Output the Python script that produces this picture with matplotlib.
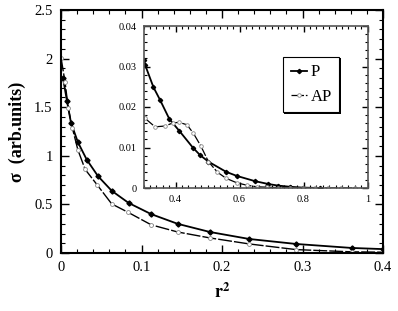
import matplotlib
matplotlib.use("Agg")
import matplotlib.pyplot as plt
import matplotlib.patheffects as pe
from matplotlib.ticker import MultipleLocator, FuncFormatter

# Main panel data
p_x = [0.0025, 0.0075, 0.0124, 0.021, 0.032, 0.046, 0.063, 0.084, 0.112, 0.145, 0.185, 0.234, 0.292, 0.361, 0.40]
p_y = [1.80, 1.56, 1.34, 1.14, 0.96, 0.79, 0.64, 0.515, 0.40, 0.30, 0.216, 0.144, 0.093, 0.052, 0.040]
ap_x = [0.0, 0.005, 0.009, 0.014, 0.021, 0.030, 0.045, 0.063, 0.083, 0.112, 0.145, 0.185, 0.234, 0.292, 0.361, 0.40]
ap_y = [2.01, 1.76, 1.49, 1.29, 1.06, 0.86, 0.70, 0.505, 0.42, 0.29, 0.216, 0.155, 0.093, 0.035, 0.012, 0.008]

# Inset data
ip_x = [0.300, 0.305, 0.331, 0.352, 0.381, 0.412, 0.454, 0.477, 0.503, 0.558, 0.591, 0.648, 0.689, 0.720, 0.758, 0.797, 0.85]
ip_y = [0.0315, 0.0304, 0.0249, 0.0217, 0.0170, 0.0141, 0.0100, 0.0081, 0.0065, 0.0040, 0.0030, 0.0017, 0.0010, 0.0006, 0.0003, 0.0001, 0.0]
iap_x = [0.300, 0.305, 0.336, 0.367, 0.393, 0.412, 0.436, 0.456, 0.479, 0.503, 0.531, 0.558, 0.591, 0.622, 0.654, 0.685,
         0.720, 0.758, 0.797, 0.836, 0.876, 0.917, 0.960]
iap_y = [0.0175, 0.0172, 0.0151, 0.0153, 0.0161, 0.0162, 0.0156, 0.0135, 0.0104, 0.0065, 0.0039, 0.0024, 0.0013, 0.0007,
         0.0003, 0.0002, 0.0001, 0.0, 0.0, 0.0, 0.0, 0.0, 0.0]

plt.rcParams['font.family'] = ['Liberation Serif', 'DejaVu Serif']
plt.rcParams['mathtext.fontset'] = 'stix'

fig = plt.figure(figsize=(3.98, 3.11), dpi=100)
ax = fig.add_axes([61/398, 1-253/311, 322/398, 243/311])

gfmt = FuncFormatter(lambda v, pos: '%g' % round(v, 6))

def style(a, xmaj, xmin, ymaj, ymin, lsize, spc, lw):
    a.xaxis.set_major_locator(MultipleLocator(xmaj))
    a.xaxis.set_minor_locator(MultipleLocator(xmin))
    a.yaxis.set_major_locator(MultipleLocator(ymaj))
    a.yaxis.set_minor_locator(MultipleLocator(ymin))
    a.xaxis.set_major_formatter(gfmt)
    a.yaxis.set_major_formatter(gfmt)
    a.tick_params(which='both', direction='in', top=True, right=True, labelsize=lsize, colors='black')
    a.tick_params(which='major', length=6, width=1.0, pad=spc)
    a.tick_params(which='minor', length=3, width=0.8)
    for s in a.spines.values():
        s.set_linewidth(lw)

# Main
ax.plot(p_x, p_y, color='black', lw=1.3, marker='D', ms=2.6, mfc='black', mec='black', label='P')
ax.plot(ap_x, ap_y, color='black', lw=1.0, ls=(0, (10, 1.5)), marker='o', ms=2.8, mfc='white', mec='#888888', mew=0.6, label='AP')
ax.set_xlim(0, 0.4)
ax.set_ylim(0, 2.5)
style(ax, 0.1, 0.02, 0.5, 0.1, 10.5, 6, 1.5)
ax.set_xlabel(r'$\mathbf{r}^{\mathbf{2}}$', fontsize=13, labelpad=6)
ax.set_ylabel('σ  (arb.units)', fontsize=13, fontweight='bold', labelpad=6)

# Inset
ins = fig.add_axes([143.5/398, 1-188/311, 224/398, 162/311])
lp, = ins.plot(ip_x, ip_y, color='black', lw=1.3, marker='D', ms=2.2, mfc='black', mec='black', label='P')
la, = ins.plot(iap_x, iap_y, color='black', lw=0.9, ls=(0, (10, 1.5)), marker='o', ms=2.6, mfc='white', mec='#888888', mew=0.6, label='AP')
ins.set_xlim(0.3, 1.0)
ins.set_ylim(0, 0.04)
style(ins, 0.2, 0.02, 0.01, 0.002, 7.5, 5, 1.2)
ins.tick_params(which='major', length=4)
ins.tick_params(which='minor', length=2)
for s in ins.spines.values():
    s.set_color('#555555')

leg = ins.legend(handles=[lp, la], loc='upper left', bbox_to_anchor=(0.623, 0.809), borderaxespad=0,
                 fontsize=12, frameon=True, fancybox=False, edgecolor='black', framealpha=1,
                 handlelength=1.0, handletextpad=0.2, borderpad=0.45, labelspacing=0.5)
frame = leg.get_frame()
frame.set_linewidth(0.8)
frame.set_path_effects([pe.SimplePatchShadow(offset=(1, -1), shadow_rgbFace='black', alpha=1), pe.Normal()])

fig.savefig('out.png', dpi=100)
